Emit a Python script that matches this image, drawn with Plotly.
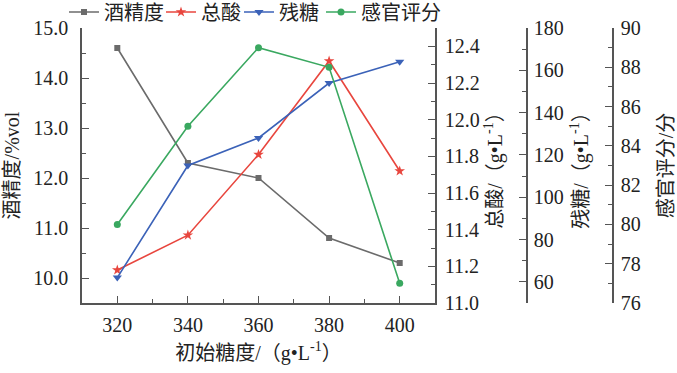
import plotly.graph_objects as go

sugar_init = [320, 340, 360, 380, 400]
alcohol = [14.6, 12.3, 12.0, 10.8, 10.3]
total_acid = [11.18, 11.37, 11.81, 12.32, 11.72]
residual_sugar = [62, 115, 128, 154, 164]
sensory = [80.0, 85.0, 89.0, 88.0, 77.0]

names = ["酒精度", "总酸", "残糖", "感官评分"]
FONT = "Liberation Serif, Noto Sans CJK SC, serif"
AX = "#555555"

fig = go.Figure()
fig.add_trace(go.Scatter(x=sugar_init, y=alcohol, name=names[0], mode="lines+markers",
                         line=dict(color="#6b6b6b", width=1.6),
                         marker=dict(symbol="square", size=6, color="#6b6b6b"),
                         yaxis="y", legend="legend"))
fig.add_trace(go.Scatter(x=sugar_init, y=total_acid, name=names[1], mode="lines+markers",
                         line=dict(color="#e8463e", width=1.6),
                         marker=dict(symbol="star", size=8, color="#e8463e"),
                         yaxis="y2", legend="legend2"))
fig.add_trace(go.Scatter(x=sugar_init, y=residual_sugar, name=names[2], mode="lines+markers",
                         line=dict(color="#3b62b8", width=1.6),
                         marker=dict(symbol="triangle-down", size=8, color="#3b62b8"),
                         yaxis="y3", legend="legend3"))
fig.add_trace(go.Scatter(x=sugar_init, y=sensory, name=names[3], mode="lines+markers",
                         line=dict(color="#3aa860", width=1.6),
                         marker=dict(symbol="circle", size=7, color="#3aa860"),
                         yaxis="y4", legend="legend4"))

tickfont = dict(family=FONT, size=20, color="#222")
titlefont = dict(family=FONT, size=20, color="#222")

def yax(**kw):
    d = dict(showgrid=False, zeroline=False, showline=True, linecolor=AX, linewidth=1.6,
             ticks="inside", ticklen=7, tickwidth=1.4, tickcolor=AX, tickfont=tickfont,
             automargin=False)
    d.update(kw)
    return d

W, H = 677, 373
L, R = 82, 64
pw = W - L - R
xdom_end = (435 - L) / pw

def leg(px):
    return dict(orientation="h", x=(px - 6 - L) / pw, y=1 + 16 / 275,
                xanchor="left", yanchor="middle",
                font=dict(family=FONT, size=20, color="#222"),
                bgcolor="rgba(0,0,0,0)", itemwidth=30)

fig.update_layout(
    width=W, height=H,
    margin=dict(l=L, r=R, t=28, b=70, autoexpand=False),
    paper_bgcolor="white", plot_bgcolor="white",
    font=dict(family=FONT, size=20, color="#222"),
    showlegend=True,
    legend=leg(70), legend2=leg(167), legend3=leg(245), legend4=leg(327),
    xaxis=dict(domain=[0, xdom_end], range=[310, 410], tick0=320, dtick=20,
               showgrid=False, zeroline=False, showline=True, linecolor=AX, linewidth=1.6,
               ticks="inside", ticklen=7, tickwidth=1.4, tickcolor=AX, tickfont=tickfont,
               automargin=False, ticklabelstandoff=3,
               minor=dict(tick0=310, dtick=10, ticks="inside", ticklen=4, tickcolor=AX, tickwidth=1.4),
               title=dict(text="初始糖度/（g•L<sup>-1</sup>）", font=titlefont, standoff=11)),
    yaxis=yax(range=[9.5, 15.0], tick0=10, dtick=1, tickformat=".1f", ticklabelstandoff=8,
              minor=dict(tick0=9.5, dtick=0.5, ticks="inside", ticklen=4, tickcolor=AX, tickwidth=1.4),
              title=dict(text="酒精度/%vol", font=titlefont, standoff=8)),
    yaxis2=yax(range=[11.0, 12.5], tick0=11.0, dtick=0.2, tickformat=".1f", ticklabelstandoff=4,
               overlaying="y", side="right", anchor="x",
               minor=dict(tick0=11.0, dtick=0.1, ticks="inside", ticklen=4, tickcolor=AX, tickwidth=1.4),
               title=dict(text="总酸/（g•L<sup>-1</sup>）", font=titlefont, standoff=9)),
    yaxis3=yax(range=[50, 180], tick0=60, dtick=20, ticklabelstandoff=2,
               overlaying="y", side="right", anchor="free", position=(527 - L) / pw,
               minor=dict(tick0=50, dtick=10, ticks="inside", ticklen=4, tickcolor=AX, tickwidth=1.4),
               title=dict(text="残糖/（g•L<sup>-1</sup>）", font=titlefont, standoff=10)),
    yaxis4=yax(range=[76, 90], tick0=76, dtick=2, ticklabelstandoff=3,
               overlaying="y", side="right", anchor="free", position=1.0,
               minor=dict(tick0=76, dtick=1, ticks="inside", ticklen=4, tickcolor=AX, tickwidth=1.4),
               title=dict(text="感官评分/分", font=titlefont, standoff=20)),
)

fig.write_html("out.html", config={"displayModeBar": False},
               post_script="document.body.style.margin='0px';")
